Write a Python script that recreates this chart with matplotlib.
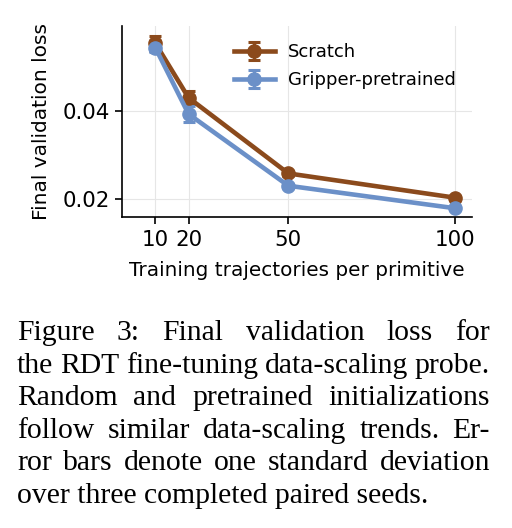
import matplotlib
matplotlib.use("Agg")
import matplotlib.pyplot as plt

# Data
trajectories = [10, 20, 50, 100]
scratch_mean = [0.0554, 0.0430, 0.0258, 0.0203]
scratch_std = [0.0017, 0.0015, 0.0005, 0.0004]
gripper_mean = [0.0544, 0.0393, 0.0230, 0.0179]
gripper_std = [0.0011, 0.0018, 0.0005, 0.0003]
series_names = ["Scratch", "Gripper-pretrained"]
x_ticks = [10, 20, 50, 100]
y_ticks = [0.02, 0.04]
y_ticklabels = ["0.02", "0.04"]

caption_lines = [
    "Figure 3:  Final validation loss for",
    "the RDT fine-tuning data-scaling probe.",
    "Random and pretrained initializations",
    "follow similar data-scaling trends.  Er-",
    "ror bars denote one standard deviation",
    "over three completed paired seeds.",
]

W, H = 512, 528
fig = plt.figure(figsize=(W / 100, H / 100), dpi=100)
ax = fig.add_axes([122 / W, (H - 217) / H, 350 / W, 191 / H])

brown = "#8B4A1C"
blue = "#6B90C8"
for mean, std, col, name in [(scratch_mean, scratch_std, brown, series_names[0]),
                             (gripper_mean, gripper_std, blue, series_names[1])]:
    ax.errorbar(trajectories, mean, yerr=std, color=col, lw=3.3, marker="o",
                ms=9.5, capsize=4.5, elinewidth=2.2, capthick=2.2, label=name)

ax.set_xlim(0, 105.2)
ax.set_ylim(0.0159, 0.0593)
ax.set_xticks(x_ticks)
ax.set_yticks(y_ticks)
ax.set_yticklabels(y_ticklabels)
ax.grid(True, color="#e6e6e6", lw=0.8)
ax.set_axisbelow(True)
for s in ["top", "right"]:
    ax.spines[s].set_visible(False)
for s in ["left", "bottom"]:
    ax.spines[s].set_linewidth(1.2)
ax.tick_params(labelsize=15.4, length=5, width=1.2, pad=4)
ax.set_xlabel("Training trajectories per primitive", fontsize=14.4, labelpad=8)
ax.set_ylabel("Final validation loss", fontsize=14.5, labelpad=8)
leg = ax.legend(loc="upper right", bbox_to_anchor=(1.0, 0.995), frameon=False,
                fontsize=13, handlelength=2.3, handletextpad=0.7, labelspacing=0.55)

# Caption, justified
fig.canvas.draw()
renderer = fig.canvas.get_renderer()
left_px, right_px = 17, 490
baselines = [340, 372.7, 405.3, 437.9, 470.5, 503.1]
fprops = dict(family="Liberation Serif", size=21.3)
for i, line in enumerate(caption_lines):
    words = line.split()
    y = 1 - baselines[i] / H
    if i == len(caption_lines) - 1:
        fig.text(left_px / W, y, line, va="baseline", ha="left", **fprops)
        continue
    texts = []
    widths = []
    for w in words:
        t = fig.text(0, y, w, va="baseline", ha="left", **fprops)
        bb = t.get_window_extent(renderer)
        texts.append(t)
        widths.append(bb.width)
    gap = (right_px - left_px - sum(widths)) / (len(words) - 1)
    x = left_px
    for t, wd in zip(texts, widths):
        t.set_x(x / W)
        x += wd + gap

fig.savefig("out.png", dpi=100)
